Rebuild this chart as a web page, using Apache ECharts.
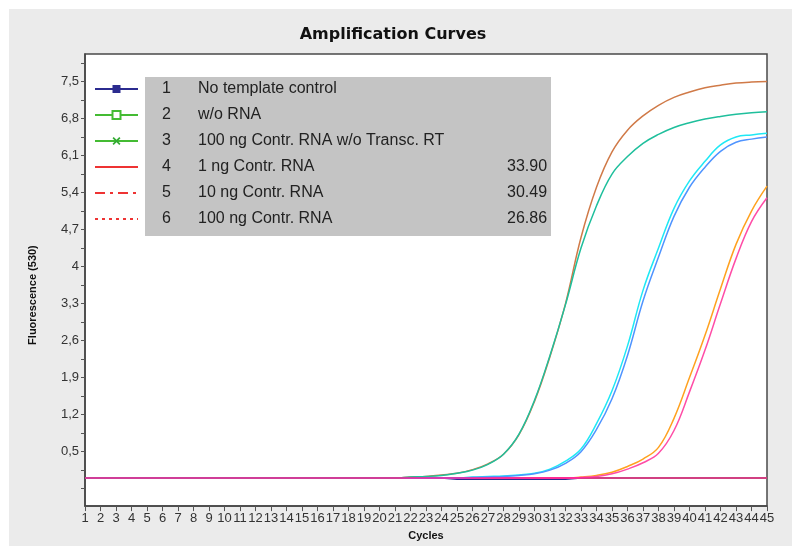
<!DOCTYPE html>
<html>
<head>
<meta charset="utf-8">
<title>Amplification Curves</title>
<script src="https://cdn.jsdelivr.net/npm/echarts@6/dist/echarts.min.js"></script>
<style>
  html, body { margin: 0; padding: 0; background: #fff; }
  #chart { position: absolute; left: 9px; top: 9px; width: 783px; height: 537px; background: #ebebeb; }
</style>
</head>
<body>
<div id="chart"></div>
<script>
// cycles on the x axis
var cycles = [1,2,3,4,5,6,7,8,9,10,11,12,13,14,15,16,17,18,19,20,21,22,23,24,25,26,27,28,29,30,31,32,33,34,35,36,37,38,39,40,41,42,43,44,45];

// y axis labels / ticks (fluorescence)
var yLabelValues = [0.5, 1.2, 1.9, 2.6, 3.3, 4, 4.7, 5.4, 6.1, 6.8, 7.5];
var yTickValues = [-0.2, 0.15, 0.5, 0.85, 1.2, 1.55, 1.9, 2.25, 2.6, 2.95, 3.3, 3.65, 4, 4.35, 4.7, 5.05, 5.4, 5.75, 6.1, 6.45, 6.8, 7.15, 7.5, 7.85];

// legend table
var legendNums = ['1', '2', '3', '4', '5', '6'];
var legendNames = ['No template control', 'w/o RNA', '100 ng Contr. RNA w/o Transc. RT', '1 ng Contr. RNA', '10 ng Contr. RNA', '100 ng Contr. RNA'];
var legendCt = ['', '', '', '33.90', '30.49', '26.86'];

// flat controls
var noTemplate = [0,0,0,0,0,0,0,0,0,0, 0,0,0,0,0,0,0,0,0,0, 0,0,0,0,-0.02,-0.02,-0.02,-0.02,-0.02,-0.02, -0.02,-0.02,0,0,0,0,0,0,0,0, 0,0,0,0,0];
var withoutRna = [0,0,0,0,0,0,0,0,0,0, 0,0,0,0,0,0,0,0,0,0, 0,0,0,0,0,0,0,0,0,0, 0,0,0,0,0,0,0,0,0,0, 0,0,0,0,0];
var withoutRt = [0,0,0,0,0,0,0,0,0,0, 0,0,0,0,0,0,0,0,0,0, 0,0,0,0,0,0,0,0,0,0, 0,0,0,0,0,0,0,0,0,0, 0,0,0,0,0];
var baseline = [0,0,0,0,0,0,0,0,0,0, 0,0,0,0,0,0,0,0,0,0, 0,0,0,0,0,0,0,0,0,0, 0,0,0,0,0,0,0,0,0,0, 0,0,0,0,0];

// amplification curves (two replicates per amount)
var rna100a = [0,0,0,0,0,0,0,0,0,0, 0,0,0,0,0,0,0,0,0,0, 0,0.02,0.03,0.06,0.09,0.16,0.27,0.45,0.82,1.45, 2.30,3.30,4.55,5.50,6.17,6.58,6.85,7.05,7.20,7.30, 7.38,7.43,7.47,7.49,7.50];
var rna100b = [0,0,0,0,0,0,0,0,0,0, 0,0,0,0,0,0,0,0,0,0, 0,0.02,0.03,0.05,0.09,0.15,0.26,0.45,0.83,1.47, 2.32,3.28,4.35,5.15,5.75,6.08,6.33,6.50,6.63,6.72, 6.79,6.84,6.88,6.91,6.93];
var rna10a = [0,0,0,0,0,0,0,0,0,0, 0,0,0,0,0,0,0,0,0,0, 0,0,0,0,0,0.02,0.03,0.04,0.06,0.09, 0.17,0.32,0.55,1.03,1.65,2.50,3.55,4.35,5.10,5.62, 5.99,6.30,6.45,6.49,6.52];
var rna10b = [0,0,0,0,0,0,0,0,0,0, 0,0,0,0,0,0,0,0,0,0, 0,0,0,0,0,0.01,0.02,0.03,0.05,0.08, 0.15,0.28,0.50,0.92,1.50,2.32,3.35,4.18,4.95,5.50, 5.88,6.18,6.35,6.41,6.45];
var rna1a = [0,0,0,0,0,0,0,0,0,0, 0,0,0,0,0,0,0,0,0,0, 0,0,0,0,0,0,0,0,0,0, 0,0,0.02,0.05,0.11,0.22,0.36,0.58,1.13,1.90, 2.70,3.58,4.42,5.05,5.52];
var rna1b = [0,0,0,0,0,0,0,0,0,0, 0,0,0,0,0,0,0,0,0,0, 0,0,0,0,0,0,0,0,0,0, 0,0,0.01,0.03,0.08,0.17,0.29,0.47,0.90,1.63, 2.42,3.30,4.15,4.85,5.30];

function pairs(vals) {
    return cycles.map(function (c, i) { return [c, vals[i]]; });
}

function curve(name, vals, color) {
    return {
        name: name,
        type: 'line',
        data: pairs(vals),
        showSymbol: false,
        symbol: 'none',
        smooth: 0.4,
        silent: true,
        color: color,
        lineStyle: { color: color, width: 1.5 }
    };
}

var crossPath = 'path://M0,1.5L1.5,0L5,3.5L8.5,0L10,1.5L6.5,5L10,8.5L8.5,10L5,6.5L1.5,10L0,8.5L3.5,5Z';
var legendFont = { fontFamily: 'Liberation Sans', fontSize: 16, color: '#222', align: 'left' };

var option = {
    animation: false,
    backgroundColor: 'transparent',
    title: {
        text: 'Amplification Curves',
        left: 384,
        top: 18,
        padding: 0,
        textAlign: 'center',
        textStyle: { fontFamily: 'DejaVu Sans', fontWeight: 'bold', fontSize: 16, color: '#111' }
    },
    grid: {
        left: 76,
        right: 25,
        top: 45,
        bottom: 35,
        show: true,
        backgroundColor: '#fff',
        borderColor: '#4a4a4a',
        borderWidth: 1.5
    },
    legend: {
        data: legendNames,
        orient: 'vertical',
        left: 85,
        top: 72,
        padding: 0,
        itemWidth: 43,
        itemHeight: 10,
        itemGap: 10,
        selectedMode: false,
        textStyle: {
            fontFamily: 'Liberation Sans',
            fontSize: 16,
            color: '#222',
            lineHeight: 16,
            rich: {
                p: { width: 19, align: 'left' },
                n: Object.assign({ width: 36 }, legendFont),
                t: Object.assign({ width: 309 }, legendFont),
                c: Object.assign({ width: 45 }, legendFont)
            }
        },
        formatter: function (name) {
            var i = legendNames.indexOf(name);
            return '{p| }{n|' + legendNums[i] + '}{t|' + name + '}{c|' + legendCt[i] + '}';
        }
    },
    graphic: {
        elements: [{
            type: 'rect',
            left: 136,
            top: 68,
            z: 3,
            shape: { width: 406, height: 159 },
            style: { fill: '#c4c4c4' }
        }]
    },
    xAxis: {
        type: 'value',
        min: 1,
        max: 45,
        interval: 1,
        name: 'Cycles',
        nameLocation: 'middle',
        nameGap: 23,
        nameTextStyle: { fontFamily: 'Liberation Sans', fontWeight: 'bold', fontSize: 11, color: '#111' },
        axisLine: { onZero: false, lineStyle: { color: '#444', width: 1.5 } },
        axisTick: { length: 5, lineStyle: { color: '#555' } },
        axisLabel: { fontFamily: 'Liberation Sans', fontSize: 13, color: '#333', margin: 6 },
        splitLine: { show: false }
    },
    yAxis: {
        type: 'value',
        min: -0.53,
        max: 8.02,
        name: 'Fluorescence (530)',
        nameLocation: 'middle',
        nameGap: 47,
        nameTextStyle: {
            fontFamily: 'Liberation Sans', fontWeight: 'bold', fontSize: 11, color: '#111',
            padding: [0, 30, 0, 0]
        },
        axisLine: { show: true, lineStyle: { color: '#444', width: 1.5 } },
        axisTick: { show: true, length: 4, customValues: yTickValues, lineStyle: { color: '#555' } },
        axisLabel: {
            customValues: yLabelValues,
            fontFamily: 'Liberation Sans',
            fontSize: 13,
            color: '#333',
            margin: 6,
            formatter: function (v) { return String(Math.round(v * 10) / 10).replace('.', ','); }
        },
        splitLine: { show: false }
    },
    series: [
        {
            name: legendNames[0], type: 'line', data: pairs(noTemplate), showSymbol: false,
            symbol: 'rect', silent: true, color: '#2b2b8f',
            itemStyle: { color: '#2b2b8f' },
            lineStyle: { color: '#2b2b8f', width: 1.5 }
        },
        {
            name: legendNames[1], type: 'line', data: pairs(withoutRna), showSymbol: false,
            symbol: 'emptyRect', silent: true, color: '#44bb33',
            itemStyle: { color: '#44bb33' },
            lineStyle: { color: '#44bb33', width: 1.5 }
        },
        {
            name: legendNames[2], type: 'line', data: pairs(withoutRt), showSymbol: false,
            symbol: crossPath, silent: true, color: '#33aa33',
            itemStyle: { color: '#33aa33' },
            lineStyle: { color: '#44bb33', width: 1.5 }
        },
        {
            name: legendNames[3], type: 'line', data: [], symbol: 'none', color: '#ee3333',
            itemStyle: { color: '#ee3333', opacity: 0 },
            lineStyle: { color: '#ee3333', width: 2 }
        },
        {
            name: legendNames[4], type: 'line', data: [], symbol: 'none', color: '#ee3333',
            itemStyle: { color: '#ee3333', opacity: 0 },
            lineStyle: { color: '#ee3333', width: 2, type: [10, 5, 3, 5] }
        },
        {
            name: legendNames[5], type: 'line', data: [], symbol: 'none', color: '#ee3333',
            itemStyle: { color: '#ee3333', opacity: 0 },
            lineStyle: { color: '#ee3333', width: 2, type: [3, 4] }
        },
        curve('1 ng A', rna1a, '#ffa11f'),
        curve('1 ng B', rna1b, '#ff4da6'),
        curve('10 ng A', rna10a, '#1ee8f5'),
        curve('10 ng B', rna10b, '#4f94ff'),
        curve('100 ng A', rna100a, '#d07a48'),
        curve('100 ng B', rna100b, '#1fbf9c'),
        curve('baseline', baseline, '#ff1a9a')
    ]
};

var myChart = echarts.init(document.getElementById('chart'));
myChart.setOption(option);
</script>
</body>
</html>
